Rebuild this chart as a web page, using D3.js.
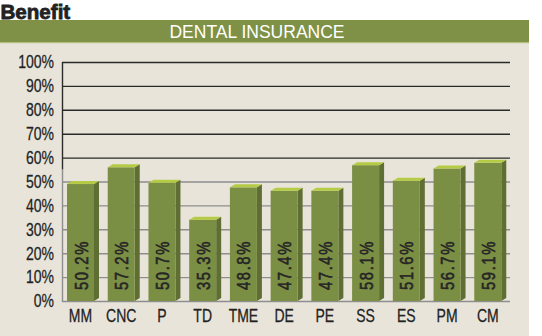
<!DOCTYPE html>
<html><head><meta charset="utf-8">
<script src="https://cdn.jsdelivr.net/npm/d3@7"></script>
<style>
html,body{margin:0;padding:0;background:#fff;}
svg{display:block;}
</style></head>
<body>
<svg id="c" width="542" height="336"></svg>
<script>
const categories = ["MM","CNC","P","TD","TME","DE","PE","SS","ES","PM","CM"];
const values = [50.2,57.2,50.7,35.3,48.8,47.4,47.4,58.1,51.6,56.7,59.1];
const yTicks = [0,10,20,30,40,50,60,70,80,90,100];
const chartTitle = "Benefit";
const panelTitle = "DENTAL INSURANCE";

const svg = d3.select("#c");
const sans = "'Liberation Sans',Arial,Helvetica,sans-serif";
const NX = 0.8; // horizontal compression to mimic a condensed face

// panel
svg.append("rect").attr("x",0).attr("y",20).attr("width",529).attr("height",316).attr("fill","#e8e4da");
svg.append("rect").attr("x",0).attr("y",20).attr("width",529).attr("height",22).attr("fill","#7f9146");
svg.append("rect").attr("x",0).attr("y",42).attr("width",529).attr("height",1.2).attr("fill","#b4c17e");
svg.append("text").attr("x",257).attr("y",37.5).attr("text-anchor","middle")
  .attr("font-family",sans).attr("font-size",17.5).attr("font-weight",300)
  .attr("fill","#fff").text(panelTitle);
svg.append("text").attr("transform","translate(0.5,19) scale(0.98,1)")
  .attr("font-family",sans).attr("font-weight","bold").attr("font-size",21)
  .attr("fill","#222").attr("stroke","#222").attr("stroke-width",0.8).text(chartTitle);

const x = d3.scaleBand().domain(categories).range([62,510]).padding(0);
const y = d3.scaleLinear().domain([0,100]).range([301,62]);

// grid
const g = svg.append("g");
g.selectAll("line.grid").data(yTicks).join("line")
  .attr("x1",62).attr("x2",510).attr("y1",d=>y(d)+0.5).attr("y2",d=>y(d)+0.5)
  .attr("stroke",d=>d>=60?"#2a2a2a":"#8e8e8e").attr("stroke-width",1.4);
g.append("line").attr("x1",62.5).attr("x2",62.5).attr("y1",y(100)).attr("y2",y(55)).attr("stroke","#2a2a2a").attr("stroke-width",1.4);
g.append("line").attr("x1",62.5).attr("x2",62.5).attr("y1",y(55)).attr("y2",y(0)+1).attr("stroke","#8e8e8e").attr("stroke-width",1.4);

// y labels
svg.selectAll("text.yl").data(yTicks).join("text")
  .attr("transform",d=>`translate(54,${y(d)}) scale(${NX},1)`).attr("dy","0.36em").attr("text-anchor","end")
  .attr("font-family",sans).attr("font-size",17.5).attr("fill","#222").attr("stroke","#222").attr("stroke-width",0.25)
  .text(d=>d+"%");

const W = 27, D = 5, H = 3;
const bars = svg.selectAll("g.bar").data(categories.map((c,i)=>({c,v:values[i]}))).join("g");
bars.each(function(d){
  const gg = d3.select(this);
  const bx = x(d.c)+5, yt = y(d.v), y0 = y(0);
  gg.append("polygon").attr("points",[[bx+W,yt+H],[bx+W+D,yt],[bx+W+D,y0-H],[bx+W,y0]].join(" ")).attr("fill","#5f6e33");
  gg.append("rect").attr("x",bx).attr("y",yt+H).attr("width",W).attr("height",y0-yt-H).attr("fill","#7b8f44");
  gg.append("polygon").attr("points",[[bx,yt+H],[bx+D,yt],[bx+W+D,yt],[bx+W,yt+H]].join(" ")).attr("fill","#b6cb45");
  gg.append("text").attr("transform",`translate(${bx+W/2+7},${y0-11}) rotate(-90) scale(${NX},1)`)
    .attr("font-family",sans).attr("font-size",18.5).attr("letter-spacing",2).attr("fill","#262626")
    .attr("stroke","#262626").attr("stroke-width",0.6)
    .text(d.v.toFixed(1)+"%");
  gg.append("text").attr("transform",`translate(${bx+W/2},322) scale(${NX},1)`).attr("text-anchor","middle")
    .attr("font-family",sans).attr("font-size",17.5).attr("fill","#222").attr("stroke","#222").attr("stroke-width",0.25).text(d.c);
});
</script>
</body></html>
